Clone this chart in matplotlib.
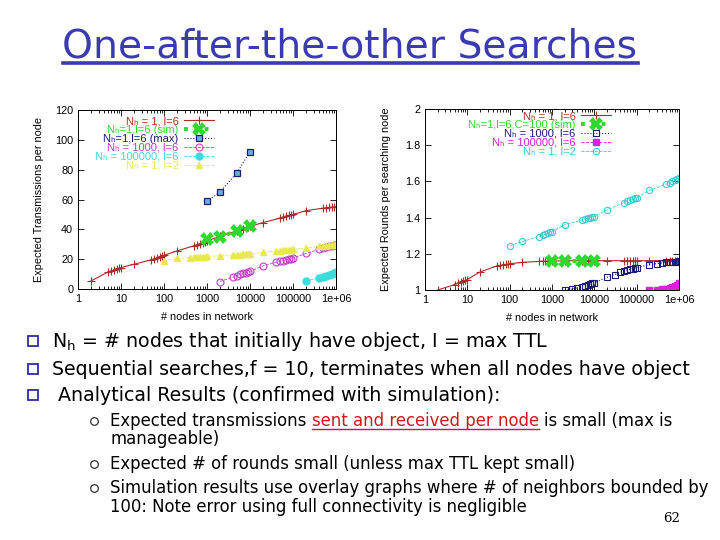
import matplotlib
matplotlib.use('Agg')
import matplotlib.pyplot as plt
from matplotlib.lines import Line2D
from matplotlib.ticker import LogLocator, NullFormatter, FixedLocator
import numpy as np

# ---------------- data ----------------
x_ticks = [1, 10, 100, 1000, 10000, 100000, 1000000]
x_tick_labels = ['1', '10', '100', '1000', '10000', '100000', '1e+06']
left_yticks = [0, 20, 40, 60, 80, 100, 120]
right_yticks = [1, 1.2, 1.4, 1.6, 1.8, 2]
right_ytick_labels = ['1', '1.2', '1.4', '1.6', '1.8', '2']

# left plot: expected transmissions per node
lr_x = [2, 5, 6, 7, 8, 9, 10, 20, 50, 60, 70, 80, 90, 100, 200, 500, 600, 700, 800, 900, 1000,
        2000, 5000, 6000, 7000, 8000, 9000, 10000, 20000, 50000, 60000, 70000, 80000, 90000, 100000,
        200000, 500000, 600000, 700000, 800000, 900000, 1000000]
lr_y = [5.4, 11.4, 12.2, 12.9, 13.5, 14.0, 14.4, 16.6, 19.5, 20.3, 21.0, 21.6, 22.1, 22.6, 25.5,
        29.0, 29.8, 30.5, 31.0, 31.6, 32.3, 35.2, 39.0, 39.8, 40.5, 41.0, 41.6, 42.0, 44.5, 47.5,
        48.2, 48.8, 49.3, 49.7, 50.0, 52.5, 54.2, 54.5, 54.7, 54.9, 55.0, 55.2]
lsim_x = [1000, 2000, 5000, 10000]
lsim_y = [33.8, 34.9, 39.0, 42.3]
lmax_x = [1000, 2000, 5000, 10000]
lmax_y = [58.9, 65.0, 78.0, 92.0]
lp_x = [2000, 4000, 5000, 6000, 7000, 8000, 9000, 10000, 20000, 40000, 50000, 60000, 70000,
        80000, 90000, 100000, 200000, 400000, 500000, 600000, 700000, 800000, 900000, 1000000]
lp_y = [5.0, 8.0, 9.0, 9.8, 10.4, 11.0, 11.4, 11.8, 15.5, 17.8, 18.5, 19.1, 19.6, 20.0, 20.4,
        20.8, 23.8, 26.5, 27.3, 27.9, 28.5, 29.0, 29.4, 29.8]
lc_x = [200000, 400000, 500000, 600000, 700000, 800000, 900000, 1000000]
lc_y = [5.3, 7.5, 8.3, 9.0, 9.7, 10.3, 10.9, 11.5]
ly_x = [100, 200, 400, 500, 600, 700, 800, 900, 1000, 2000, 4000, 5000, 6000, 7000, 8000, 9000,
        10000, 20000, 40000, 50000, 60000, 70000, 80000, 90000, 100000, 200000, 400000, 500000,
        600000, 700000, 800000, 900000, 1000000]
ly_y = [19.0, 20.5, 21.0, 21.2, 21.4, 21.5, 21.6, 21.7, 21.8, 22.3, 22.8, 23.0, 23.1, 23.2, 23.3,
        23.4, 23.5, 24.5, 25.5, 25.8, 26.0, 26.2, 26.3, 26.4, 26.5, 27.5, 28.5, 28.8, 29.1, 29.3,
        29.5, 29.7, 29.9]

# right plot: expected rounds per searching node
rr_x = lr_x
rr_y = [1.0, 1.03, 1.037, 1.043, 1.048, 1.053, 1.058, 1.10, 1.133, 1.136, 1.139, 1.141, 1.143,
        1.145, 1.153, 1.158, 1.159, 1.159, 1.160, 1.160, 1.160, 1.161, 1.162, 1.162, 1.162, 1.162,
        1.162, 1.162, 1.162, 1.162, 1.162, 1.162, 1.162, 1.162, 1.162, 1.162, 1.162, 1.162, 1.162,
        1.162, 1.162, 1.162]
rsim_x = [1000, 2000, 5000, 10000]
rsim_y = [1.162, 1.162, 1.162, 1.162]
rb_x = [2000, 3000, 4000, 5000, 6000, 7000, 8000, 9000, 10000, 20000, 30000, 40000, 50000, 60000,
        70000, 80000, 90000, 100000, 200000, 300000, 400000, 500000, 600000, 700000, 800000,
        900000, 1000000]
rb_y = [1.0, 1.005, 1.012, 1.018, 1.023, 1.028, 1.032, 1.036, 1.04, 1.07, 1.085, 1.097, 1.105,
        1.11, 1.115, 1.118, 1.121, 1.124, 1.14, 1.146, 1.15, 1.152, 1.154, 1.155, 1.156, 1.157, 1.158]
rm_x = [200000, 300000, 400000, 500000, 600000, 700000, 800000, 900000, 1000000]
rm_y = [1.0, 1.002, 1.005, 1.008, 1.012, 1.017, 1.022, 1.03, 1.04]
rc_x = [100, 200, 500, 600, 700, 800, 900, 1000, 2000, 5000, 6000, 7000, 8000, 9000, 10000,
        20000, 50000, 60000, 70000, 80000, 90000, 100000, 200000, 500000, 600000, 700000, 800000,
        900000, 1000000]
rc_y = [1.244, 1.268, 1.295, 1.302, 1.309, 1.314, 1.319, 1.323, 1.36, 1.387, 1.392, 1.396, 1.40,
        1.403, 1.406, 1.443, 1.483, 1.49, 1.496, 1.501, 1.506, 1.51, 1.55, 1.585, 1.593, 1.60,
        1.607, 1.613, 1.618]

left_labels = ['N\u2095 = 1, l=6', 'N\u2095=1,l=6 (sim)', 'N\u2095=1,l=6 (max)',
               'N\u2095 = 1000, l=6', 'N\u2095 = 100000, l=6', 'N\u2095 = 1, l=2']
right_labels = ['N\u2095 = 1, l=6', 'N\u2095=1,l=6,C=100 (sim)', 'N\u2095 = 1000, l=6',
                'N\u2095 = 100000, l=6', 'N\u2095 = 1, l=2']

title = 'One-after-the-other Searches'
bullets = ['N$_\\mathrm{h}$ = # nodes that initially have object, I = max TTL',
           'Sequential searches,f = 10, terminates when all nodes have object',
           ' Analytical Results (confirmed with simulation):']
sub1_parts = ['Expected transmissions', 'sent and received per node', 'is small (max is']
sub_lines = ['manageable)',
             'Expected # of rounds small (unless max TTL kept small)',
             'Simulation results use overlay graphs where # of neighbors bounded by',
             '100: Note error using full connectivity is negligible']
page_no = '62'

# ---------------- figure ----------------
W, H = 720, 540
plt.rcParams['font.family'] = ['DejaVu Sans']
plt.rcParams['mathtext.fontset'] = 'custom'
plt.rcParams['mathtext.rm'] = 'DejaVu Sans'
fig = plt.figure(figsize=(7.2, 5.4), dpi=100)
fig.patch.set_facecolor('white')


def fx(px):
    return px / W


def fy(py):
    return 1 - py / H


TF = 'Liberation Sans'
LF = ['Liberation Sans', 'DejaVu Sans']
RED = '#b02a2a'
GREEN = '#2fd82f'
NAVY = '#1c1c78'
PURPLE = '#c83cc8'
CYAN = '#3cdcdc'
YELLOW = '#e8e850'
MAGENTA = '#e020e0'


def style(ax, ylim, yticks, ylabels, ylabel, ylx, xly):
    ax.set_xscale('log')
    ax.set_xlim(1, 1e6)
    ax.set_ylim(*ylim)
    ax.xaxis.set_major_locator(FixedLocator(x_ticks))
    ax.set_xticklabels(x_tick_labels)
    ax.xaxis.set_minor_locator(LogLocator(base=10, subs=np.arange(2, 10)))
    ax.xaxis.set_minor_formatter(NullFormatter())
    ax.set_yticks(yticks)
    ax.set_yticklabels(ylabels)
    ax.tick_params(which='both', direction='in', top=True, right=True, width=0.6)
    ax.tick_params(which='major', length=4, pad=3.5, labelsize=7.8)
    ax.tick_params(which='minor', length=2)
    for lab in ax.get_xticklabels() + ax.get_yticklabels():
        lab.set_family(TF)
    for s in ax.spines.values():
        s.set_linewidth(0.7)
    ax.set_xlabel('# nodes in network', fontsize=7.8, family=TF)
    ax.set_ylabel(ylabel, fontsize=7.8, family=TF)
    ax.yaxis.set_label_coords(ylx, 0.5)
    ax.xaxis.set_label_coords(0.5, xly)


LEG = dict(frameon=False, markerfirst=False, labelcolor='linecolor', numpoints=1,
           prop={'family': LF, 'size': 8.0}, handlelength=2.7, handletextpad=0.5,
           labelspacing=-0.1, borderpad=0, borderaxespad=0)

axL = fig.add_axes([fx(78), fy(289), (336 - 78) / W, (289 - 110) / H])
axL.plot(lr_x, lr_y, color=RED, lw=0.8, marker='+', ms=6, mew=0.8, label=left_labels[0])
axL.plot(lsim_x, lsim_y, color=GREEN, lw=2.8, ls=':', marker='X', ms=10, mew=0,
         label=left_labels[1])
axL.plot(lmax_x, lmax_y, color=NAVY, lw=0.8, ls=':', marker='s', ms=5, mfc='#6aaee6', mec=NAVY,
         mew=0.9, label=left_labels[2])
axL.plot(lp_x, lp_y, color=PURPLE, lw=0.6, ls='--', marker='o', ms=5, mfc='none', mec=PURPLE,
         mew=0.8, label=left_labels[3])
axL.plot(lc_x, lc_y, color=CYAN, lw=0.6, ls='--', marker='o', ms=5, mfc=CYAN, mec=CYAN,
         label=left_labels[4])
axL.plot(ly_x, ly_y, color=YELLOW, lw=0.6, ls='--', marker='^', ms=4.5, mfc=YELLOW, mec=YELLOW,
         label=left_labels[5])
style(axL, (0, 120), left_yticks, [str(v) for v in left_yticks],
      'Expected Transmissions per node', -0.13, -0.13)
axL.legend(loc='upper right', bbox_to_anchor=((214 - 78) / 258, (289 - 116) / 179), **LEG)

axR = fig.add_axes([fx(425), fy(290), (679 - 425) / W, (290 - 109) / H])
axR.plot(rr_x, rr_y, color=RED, lw=0.8, marker='+', ms=6, mew=0.8, label=right_labels[0])
axR.plot(rsim_x, rsim_y, color=GREEN, lw=2.8, ls=':', marker='X', ms=10, mew=0,
         label=right_labels[1])
axR.plot(rb_x, rb_y, color=NAVY, lw=0.8, ls=':', marker='s', ms=4.5, mfc='none', mec=NAVY,
         mew=0.8, label=right_labels[2])
axR.plot(rm_x, rm_y, color=MAGENTA, lw=0.6, ls='--', marker='s', ms=5, mfc=MAGENTA, mec=MAGENTA,
         label=right_labels[3])
axR.plot(rc_x, rc_y, color='#40c8d0', lw=0.6, ls='--', marker='o', ms=4.5, mfc='none',
         mec='#40c8d0', mew=0.8, label=right_labels[4])
style(axR, (1, 2), right_yticks, right_ytick_labels,
      'Expected Rounds per searching node', -0.135, -0.125)
axR.legend(loc='upper right', bbox_to_anchor=((611 - 425) / 254, (290 - 111) / 181), **LEG)

# ---------------- slide text ----------------
renderer = fig.canvas.get_renderer()
SF = 'DejaVu Sans'


def twidth(s, size, family=SF):
    t = fig.text(0, 0, s, fontsize=size, family=family)
    w = t.get_window_extent(renderer).width
    t.remove()
    return w


def put(x, yb, s, size, color='black', family=SF, ha='left'):
    t = fig.text(fx(x), fy(yb), s, fontsize=size, color=color, family=family, ha=ha,
                 va='baseline')
    bb = t.get_window_extent(renderer)
    return t, bb


def underline(bb, yb, color, lw):
    fig.add_artist(Line2D([fx(bb.x0), fx(bb.x1)], [fy(yb), fy(yb)], color=color, lw=lw,
                          transform=fig.transFigure))


# title
TCOL = '#3a3ab4'
ts = 25 * (638 - 62) / twidth(title, 25)
t, bb = put(350, 57, title, ts, color=TCOL, ha='center')
underline(bb, 62.5, TCOL, 2.6)

# main bullets
ms_ = 12 * (690 - 52) / twidth(bullets[1], 12)
for i, (yc, s) in enumerate(zip([341, 369, 395], bullets)):
    fig.add_artist(Line2D([fx(33)], [fy(yc)], marker='s', ms=6.5, mfc='white', mec='#2d2da0',
                          mew=1.3, transform=fig.transFigure))
    put(52, yc + 6, s, ms_)

# sub bullets
ss = 11 * (710 - 110) / twidth(sub_lines[2], 11)
space = twidth('a a', ss) - twidth('aa', ss)
for yc in [421, 464, 488]:
    fig.add_artist(Line2D([fx(94)], [fy(yc)], marker='o', ms=5.5, mfc='none', mec='#333333',
                          mew=0.9, transform=fig.transFigure))
x = 110
_, bb = put(x, 426, sub1_parts[0], ss)
x = bb.x1 + space
_, bb = put(x, 426, sub1_parts[1], ss, color='#d01818')
underline(bb, 429, '#d01818', 1.0)
x = bb.x1 + space
put(x, 426, sub1_parts[2], ss)
for yb, s in zip([444, 469, 493, 512], sub_lines):
    put(110, yb, s, ss)

put(663, 522, page_no, 9.5, family='DejaVu Serif')

fig.savefig('out.png', dpi=100, facecolor='white')
